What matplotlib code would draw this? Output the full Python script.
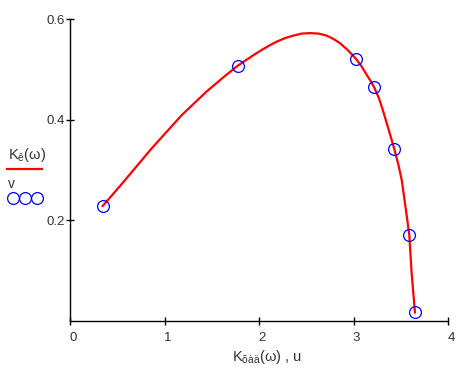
import matplotlib
matplotlib.use("Agg")
import matplotlib.pyplot as plt
import matplotlib.transforms as mtransforms
from matplotlib.lines import Line2D

plt.rcParams['font.family'] = ['Liberation Sans', 'DejaVu Sans']
plt.rcParams['mathtext.fontset'] = 'custom'
plt.rcParams['mathtext.rm'] = 'Liberation Sans'
plt.rcParams['mathtext.it'] = 'Liberation Sans'

# smooth curve K_e(w) vs K_fad(w)
curve_x = [0.343, 0.544, 0.862, 1.180, 1.444, 1.620, 1.772, 1.938, 2.040, 2.115,
           2.186, 2.274, 2.362, 2.450, 2.538, 2.630, 2.715, 2.790, 2.856, 2.940, 3.025,
           3.085, 3.139, 3.180, 3.219, 3.270, 3.315, 3.378, 3.431, 3.475, 3.510, 3.555,
           3.590, 3.615, 3.635, 3.650]
curve_y = [0.2285, 0.272, 0.343, 0.409, 0.456, 0.484, 0.507, 0.528, 0.540, 0.548,
           0.555, 0.562, 0.567, 0.571, 0.572, 0.571, 0.567, 0.560, 0.552, 0.538, 0.521,
           0.506, 0.489, 0.477, 0.464, 0.442, 0.416, 0.376, 0.342, 0.310, 0.280, 0.220,
           0.171, 0.095, 0.050, 0.017]

# measured points (u, v)
u = [0.343, 1.772, 3.025, 3.219, 3.431, 3.590, 3.650]
v = [0.2285, 0.507, 0.521, 0.464, 0.342, 0.171, 0.017]

xticks = [0, 1, 2, 3, 4]
yticks = [0.2, 0.4, 0.6]

W, H = 465, 371
fig = plt.figure(figsize=(W / 100, H / 100), dpi=100)
ax = fig.add_axes([70.3 / W, (H - 321) / H, (448 - 70.3) / W, (321 - 19) / H])

ax.plot(curve_x, curve_y, color='red', linewidth=1.6, solid_joinstyle='round')
ax.plot(u, v, linestyle='none', marker='o', markersize=8.5, markerfacecolor='none',
        markeredgecolor='blue', markeredgewidth=0.9)

ax.set_xlim(0, 4)
ax.set_ylim(0, 0.6)
ax.set_xticks(xticks)
ax.set_xticklabels([str(t) for t in xticks])
ax.set_yticks(yticks)
ax.set_yticklabels([str(t) for t in yticks])

for side in ['top', 'right']:
    ax.spines[side].set_visible(False)
for side in ['left', 'bottom']:
    ax.spines[side].set_linewidth(1.0)
    ax.spines[side].set_color('black')

ax.tick_params(direction='inout', length=6, width=1.0, colors='black', labelsize=9.5,
               labelcolor='#333333')
ax.tick_params(axis='x', pad=5)
ax.tick_params(axis='y', pad=1)

# Mathcad-style labels sit a bit right of their ticks
offset = mtransforms.ScaledTranslation(3 / 100, 0, fig.dpi_scale_trans)
for lbl in ax.get_xticklabels():
    lbl.set_transform(lbl.get_transform() + offset)

fig.text(267 / W, 1 - 357 / H, r"K$_{\mathrm{õàä}}$(ω) , u", ha='center', va='center',
         fontsize=10.5, color='#333333')

# legend on the left
fig.text(8 / W, 1 - 155 / H, r"K$_{\mathrm{ê}}$(ω)", ha='left', va='center',
         fontsize=10.5, color='#333333')
fig.add_artist(Line2D([7 / W, 42 / W], [1 - 169 / H, 1 - 169 / H], color='red',
                      linewidth=1.6, transform=fig.transFigure))
fig.text(8 / W, 1 - 184 / H, "v", ha='left', va='center', fontsize=10, color='#333333')
fig.add_artist(Line2D([12.5 / W, 24.5 / W, 36.5 / W], [1 - 198.5 / H] * 3, linestyle='none',
                      marker='o', markersize=8.5, markerfacecolor='none',
                      markeredgecolor='blue', markeredgewidth=0.9,
                      transform=fig.transFigure))

fig.savefig("out.png", dpi=100)
